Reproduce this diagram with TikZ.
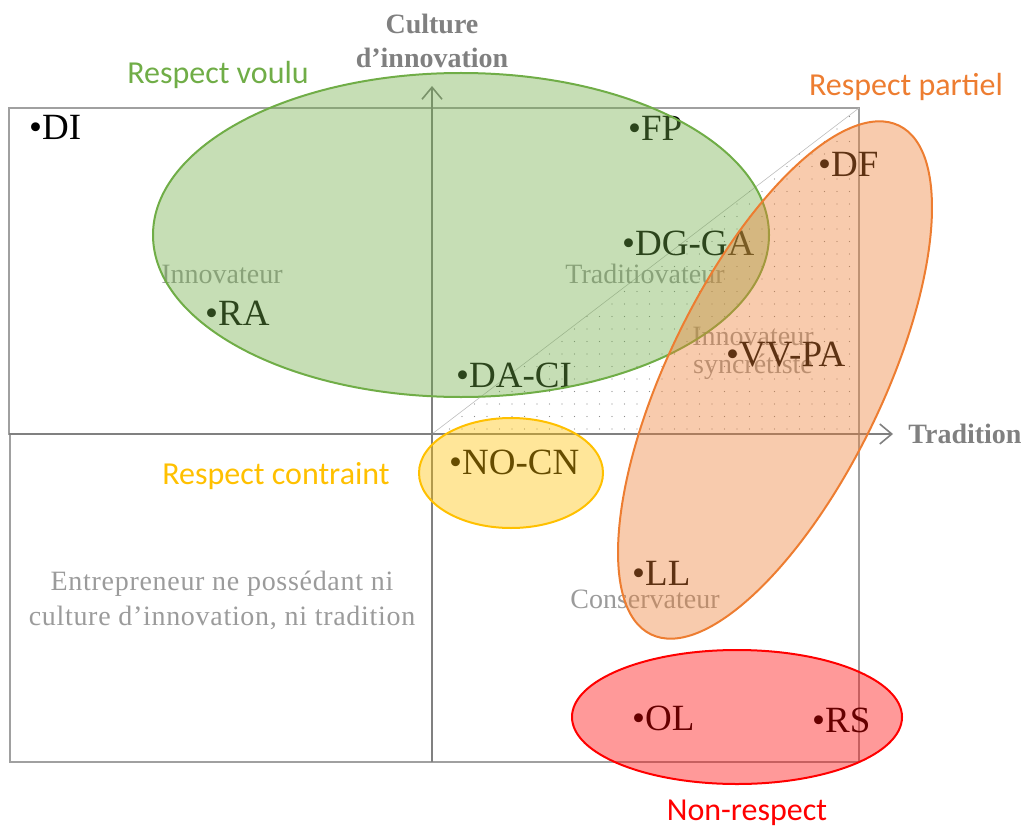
\documentclass[tikz,border=0pt]{standalone}
\usepackage{fontspec}
\setmainfont{Liberation Serif}
\newfontfamily\calib{Carlito}
\usetikzlibrary{arrows.meta}
\definecolor{gGreen}{RGB}{112,173,71}
\definecolor{gOrange}{RGB}{237,125,49}
\definecolor{gYellow}{RGB}{255,192,0}
\definecolor{gRed}{RGB}{255,0,0}
\definecolor{axisgray}{RGB}{128,128,128}
\definecolor{boxgray}{RGB}{160,160,160}
\definecolor{quadgray}{RGB}{155,155,155}
\definecolor{dotgray}{RGB}{140,140,140}
\begin{document}
\begin{tikzpicture}[x=1pt,y=-1pt,
  boxline/.style={draw=boxgray, line width=1.3pt},
  diagline/.style={draw=boxgray!70, line width=0.6pt},
  axis/.style={draw=axisgray, line width=1.6pt, -{Straight Barb[length=12pt,width=20pt,line width=1.6pt]}},
  ptlab/.style={anchor=base west, inner sep=0pt, font=\fontsize{37}{37}\selectfont},
  quad/.style={anchor=base, inner sep=0pt, text=quadgray, font=\fontsize{28}{28}\selectfont},
  grp/.style={anchor=base, inner sep=0pt, font=\calib\fontsize{32}{32}\selectfont},
  axlab/.style={anchor=base, inner sep=0pt, text=axisgray, font=\bfseries\fontsize{28}{28}\selectfont},
  zone/.style={line width=2pt, fill opacity=0.4}
]
\useasboundingbox (0,0) rectangle (1027,829);
% quadrant boxes
\draw[boxline] (9,108) rectangle (432,434);
\draw[boxline] (432,108) rectangle (859,434);
\draw[boxline] (10,434) rectangle (432,762);
\draw[boxline] (432,434) rectangle (859,762);
% diagonal and dotted triangle
\coordinate (O) at (432,434);
\coordinate (TR) at (859,108);
\draw[diagline] (O) -- (TR);
\begin{scope}
\clip (432,434) -- (859,108) -- (859,434) -- cycle;
\foreach \i in {0,...,34} {
  \foreach \j in {0,...,26} {
    \fill[dotgray] (437+\i*12.5, 429-\j*12.5) circle[radius=0.6pt];
  }
}
\end{scope}
% axes
\coordinate (ybot) at (432,762);
\coordinate (ytop) at (432,86);
\coordinate (xleft) at (9,434);
\coordinate (xright) at (893,434);
\draw[axis] (ybot) -- (ytop);
\draw[axis] (xleft) -- (xright);
\node[axlab] (cult1) at (432,34) {Culture};
\node[axlab] (cult2) at (432,68) {d’innovation};
\node[axlab] (trad) at (965,443) {Tradition};
% quadrant names
\node[quad] (qI) at (222,283) {Innovateur};
\node[quad] (qT) at (645,283) {Traditiovateur};
\node[quad] (qS1) at (753,345) {Innovateur};
\node[quad] (qS2) at (753,373) {syncrétiste};
\node[quad] (qC) at (645,608) {Conservateur};
\node[quad] (qE1) at (222,590) {\addfontfeature{LetterSpace=2.5}Entrepreneur ne possédant ni};
\node[quad] (qE2) at (222,625) {\addfontfeature{LetterSpace=2.5}culture d’innovation, ni tradition};
% points
\node[ptlab] (DI) at (29,140) {•DI};
\node[ptlab] (FP) at (628,141) {•FP};
\node[ptlab] (DF) at (818,177) {•DF};
\node[ptlab] (DGGA) at (622,255) {•DG-GA};
\node[ptlab] (RA) at (205,325) {•RA};
\node[ptlab] (VVPA) at (726,366) {•VV-PA};
\node[ptlab] (DACI) at (456,387) {•DA-CI};
\node[ptlab] (NOCN) at (449,474) {•NO-CN};
\node[ptlab] (LL) at (632,585) {•LL};
\node[ptlab] (OL) at (632,730) {•OL};
\node[ptlab] (RS) at (812,732) {•RS};
% zones
\draw[zone, draw=gGreen, fill=gGreen] (461,235) ellipse [x radius=308pt, y radius=162pt];
\draw[zone, draw=gOrange, fill=gOrange, rotate around={64:(775,380)}] (775,380) ellipse [x radius=283pt, y radius=107pt];
\draw[zone, draw=gYellow, fill=gYellow] (511,473) ellipse [x radius=92pt, y radius=55pt];
\draw[zone, draw=gRed, fill=gRed] (737,717) ellipse [x radius=165pt, y radius=67pt];
% zone labels
\node[grp, text=gGreen] (gV) at (218,84) {Respect voulu};
\node[grp, text=gOrange] (gP) at (906,96) {Respect partiel};
\node[grp, text=gYellow] (gC) at (276,484) {Respect contraint};
\node[grp, text=gRed] (gN) at (747,820) {Non-respect};
\end{tikzpicture}
\end{document}
